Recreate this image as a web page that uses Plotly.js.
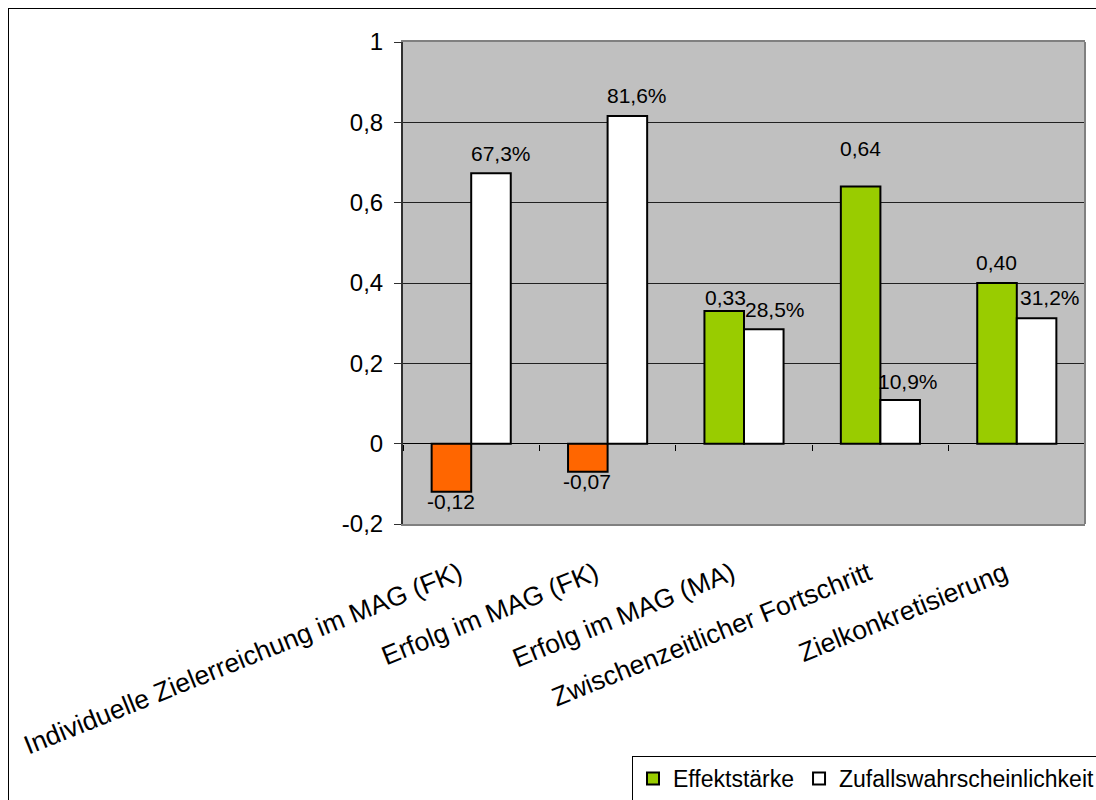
<!DOCTYPE html>
<html>
<head>
<meta charset="utf-8">
<script src="https://cdn.plot.ly/plotly-3.0.1.min.js"></script>
<style>
  html, body { margin: 0; padding: 0; background: #ffffff; overflow: hidden; }
  #chart { position: absolute; left: 0; top: 0; }
  #frame {
    position: absolute; left: 8px; top: 8px; width: 1200px; height: 900px;
    border-left: 1px solid #000; border-top: 1px solid #000; pointer-events: none;
  }
</style>
</head>
<body>
<div id="chart"></div>
<div id="frame"></div>
<script>
// Kategorien der Auswertung
const categories = [
  'Individuelle Zielerreichung im MAG (FK)',
  'Erfolg im MAG (FK)',
  'Erfolg im MAG (MA)',
  'Zwischenzeitlicher Fortschritt',
  'Zielkonkretisierung'
];

// Effektstärke je Kategorie
const effectSize = [-0.12, -0.07, 0.33, 0.64, 0.40];

// Zufallswahrscheinlichkeit (als Anteil, 0.673 = 67,3 %)
const chanceProbability = [0.673, 0.816, 0.285, 0.109, 0.312];

// Beschriftung der y-Achse
const yTickVals = [-0.2, 0, 0.2, 0.4, 0.6, 0.8, 1];
const yTickText = ['-0,2', '0', '0,2', '0,4', '0,6', '0,8', '1'];

// Versatz der Wertebeschriftungen in Pixeln (x, y)
const effectLabelShift = [[-20, -10], [-21, -10], [-19, 14], [-20, 38], [-20, 21]];
const chanceLabelShift = [[30, 20], [29, 20], [31, 20], [28, 18], [33, 21]];

const GREEN = '#99CC00';
const ORANGE = '#FF6600';
const FONT = 'Liberation Sans, Arial, sans-serif';

const fmtEffect = v => (v < 0 ? '-' : '') + Math.abs(v).toFixed(2).replace('.', ',');
const fmtPercent = v => (v * 100).toFixed(1).replace('.', ',') + '%';

const barLine = { color: '#000000', width: 2 };

const traces = [
  {
    type: 'bar', name: 'Effektstärke', x: categories,
    y: effectSize.map(v => (v >= 0 ? v : null)),
    offsetgroup: 'effect',
    marker: { color: GREEN, line: barLine },
    hoverinfo: 'x+y'
  },
  {
    type: 'bar', name: 'Effektstärke', x: categories,
    y: effectSize.map(v => (v < 0 ? v : null)),
    offsetgroup: 'effect', showlegend: false,
    marker: { color: ORANGE, line: barLine },
    hoverinfo: 'x+y'
  },
  {
    type: 'bar', name: 'Zufallswahrscheinlichkeit', x: categories,
    y: chanceProbability,
    offsetgroup: 'chance',
    marker: { color: '#FFFFFF', line: barLine },
    hoverinfo: 'x+y'
  },
  // trägt die Kategorieachse auf Höhe der Nulllinie (nur Teilstriche)
  {
    type: 'scatter', mode: 'markers', x: categories, y: effectSize,
    xaxis: 'x2', yaxis: 'y', marker: { opacity: 0 },
    showlegend: false, hoverinfo: 'skip'
  }
];

const annotations = [];
categories.forEach((c, i) => {
  const e = effectSize[i];
  annotations.push({
    x: c, y: e, xref: 'x', yref: 'y', text: fmtEffect(e), showarrow: false,
    xshift: effectLabelShift[i][0], yshift: effectLabelShift[i][1],
    xanchor: 'center', yanchor: 'middle',
    font: { family: FONT, size: 21, color: '#000' }
  });
  const p = chanceProbability[i];
  annotations.push({
    x: c, y: p, xref: 'x', yref: 'y', text: fmtPercent(p), showarrow: false,
    xshift: chanceLabelShift[i][0], yshift: chanceLabelShift[i][1],
    xanchor: 'center', yanchor: 'middle',
    font: { family: FONT, size: 21, color: '#000' }
  });
});

// Die Zeichenfläche ist etwas größer als das Fenster; Legende und Rahmen laufen rechts/unten hinaus
const W = 1130, H = 830;
const plotLeft = 403, plotRight = 1085, plotTop = 42, plotBottom = 524;

const layout = {
  width: W, height: H,
  margin: { l: plotLeft, r: W - plotRight, t: plotTop, b: H - plotBottom, pad: 0 },
  paper_bgcolor: '#FFFFFF',
  plot_bgcolor: '#C0C0C0',
  separators: ',.',
  font: { family: FONT, color: '#000' },
  barmode: 'group',
  bargap: 0.42,
  bargroupgap: 0,
  showlegend: true,
  legend: {
    orientation: 'h',
    x: (632 - plotLeft) / (plotRight - plotLeft), xanchor: 'left',
    y: (plotBottom - 756) / (plotBottom - plotTop), yanchor: 'top',
    bgcolor: '#FFFFFF', bordercolor: '#000000', borderwidth: 1,
    font: { family: FONT, size: 23, color: '#000' },
    itemwidth: 30, traceorder: 'normal'
  },
  xaxis: {
    type: 'category', categoryarray: categories, categoryorder: 'array',
    range: [-0.5, categories.length - 0.5],
    showgrid: false, zeroline: false,
    showline: true, linecolor: '#808080', linewidth: 2, mirror: true,
    ticks: '', tickangle: -22,
    tickfont: { family: FONT, size: 26.5, color: '#000' },
    ticklabelstandoff: 22,
    ticklabelshift: -12,
    automargin: false,
    fixedrange: true
  },
  xaxis2: {
    type: 'category', categoryarray: categories, categoryorder: 'array',
    range: [-0.5, categories.length - 0.5],
    overlaying: 'x', anchor: 'free', position: 0.2 / 1.2,
    showgrid: false, zeroline: false, showline: false,
    showticklabels: false,
    ticks: 'outside', tickson: 'boundaries', ticklen: 6,
    tickcolor: '#000', tickwidth: 1,
    fixedrange: true
  },
  yaxis: {
    range: [-0.2, 1],
    tickvals: yTickVals, ticktext: yTickText,
    showgrid: true, gridcolor: '#202020', gridwidth: 1,
    zeroline: true, zerolinecolor: '#000000', zerolinewidth: 1,
    showline: true, linecolor: '#303030', linewidth: 2,
    ticks: 'outside', ticklen: 7, tickcolor: '#303030', tickwidth: 1,
    tickfont: { family: FONT, size: 24, color: '#000' },
    ticklabelstandoff: 6,
    automargin: false,
    fixedrange: true
  },
  shapes: [
    // rechter Rand der Zeichenfläche
    { type: 'line', xref: 'paper', yref: 'paper', x0: 1, x1: 1, y0: 0, y1: 1,
      line: { color: '#808080', width: 2 } }
  ],
  annotations: annotations
};

Plotly.newPlot('chart', traces, layout, { displayModeBar: false, staticPlot: true });
</script>
</body>
</html>
